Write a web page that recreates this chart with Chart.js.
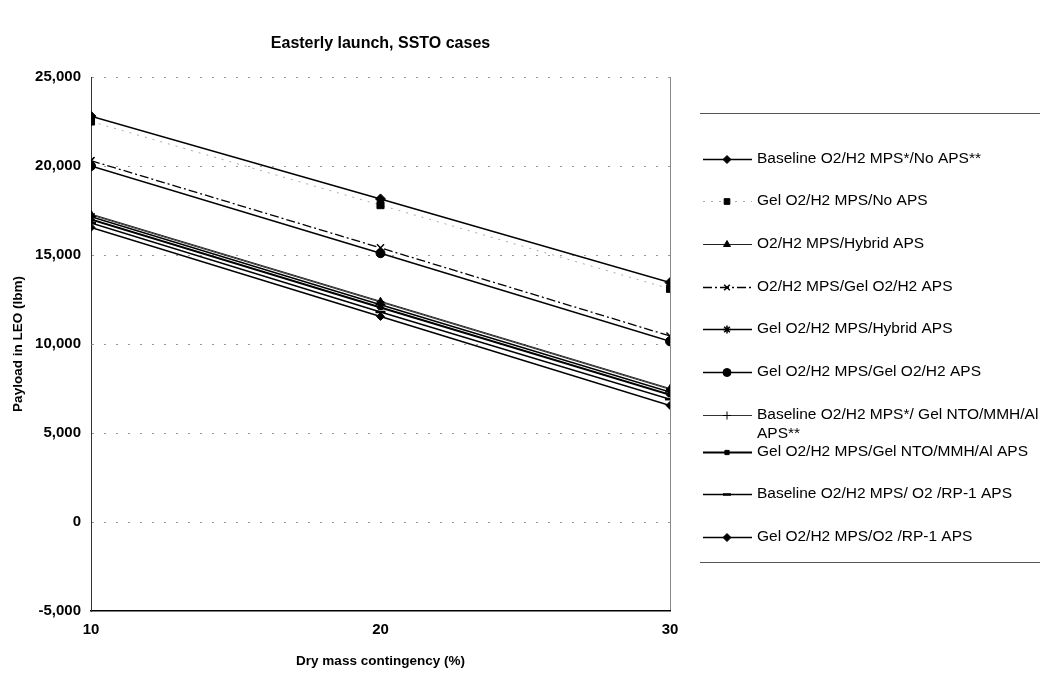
<!DOCTYPE html>
<html>
<head>
<meta charset="utf-8">
<script src="https://cdn.jsdelivr.net/npm/chart.js@4.4.1/dist/chart.umd.min.js"></script>
<style>
  html, body { margin: 0; padding: 0; background: #fff; }
  #wrap { width: 1045px; height: 677px; }
</style>
</head>
<body>
<div id="wrap"><canvas id="sstoChart" width="1045" height="677"></canvas></div>
<script>
// values (payload in lbm)
const chartTitle = 'Easterly launch, SSTO cases';
const contingency = [10, 20, 30];
const seriesNames = [
    'Baseline O2/H2 MPS*/No APS**',
    'Gel O2/H2 MPS/No APS',
    'O2/H2 MPS/Hybrid APS',
    'O2/H2 MPS/Gel O2/H2 APS',
    'Gel O2/H2 MPS/Hybrid APS',
    'Gel O2/H2 MPS/Gel O2/H2 APS',
    'Baseline O2/H2 MPS*/ Gel NTO/MMH/Al\nAPS**',
    'Gel O2/H2 MPS/Gel NTO/MMH/Al APS',
    'Baseline O2/H2 MPS/ O2 /RP-1 APS',
    'Gel O2/H2 MPS/O2 /RP-1 APS'
];
const baselineNoAps = [22800, 18150, 13450];
const gelNoAps = [22500, 17800, 13100];
const o2h2Hybrid = [17300, 12400, 7500];
const o2h2GelO2h2 = [20300, 15400, 10450];
const gelHybrid = [17150, 12200, 7300];
const gelGelO2h2 = [20000, 15100, 10150];
const baselineGelNto = [17250, 12350, 7450];
const gelGelNto = [17000, 12050, 7150];
const baselineRp1 = [16800, 11800, 6900];
const gelRp1 = [16550, 11550, 6550];
const yTicks = [-5000, 0, 5000, 10000, 15000, 20000, 25000];

const FONT = '"Liberation Sans", Arial, sans-serif';

function series(name, values, style) {
    return Object.assign({
        label: name,
        data: contingency.map((x, i) => ({ x: x, y: values[i] })),
        borderColor: '#000',
        backgroundColor: '#000',
        pointBorderColor: '#000',
        pointBackgroundColor: '#000',
        borderWidth: 1.5,
        pointRadius: 4,
        pointBorderWidth: 1,
        fill: false,
        tension: 0
    }, style);
}

const datasets = [
    series(seriesNames[0], baselineNoAps, { pointStyle: 'rectRot', pointRadius: 5 }),
    series(seriesNames[1], gelNoAps, { pointStyle: 'rect', pointRadius: 5, borderColor: '#aaa', borderWidth: 1, borderDash: [2, 6] }),
    series(seriesNames[2], o2h2Hybrid, { pointStyle: 'triangle', borderWidth: 1, borderColor: '#222' }),
    series(seriesNames[3], o2h2GelO2h2, { pointStyle: 'crossRot', pointRadius: 5, pointBorderWidth: 1.5, borderWidth: 1.3, borderDash: [9, 3, 2, 3] }),
    series(seriesNames[4], gelHybrid, { pointStyle: 'star', pointRadius: 5, pointBorderWidth: 1.5 }),
    series(seriesNames[5], gelGelO2h2, { pointStyle: 'circle', pointRadius: 4.5 }),
    series(seriesNames[6], baselineGelNto, { pointStyle: 'cross', pointRadius: 4, borderWidth: 1, borderColor: '#333' }),
    series(seriesNames[7], gelGelNto, { pointStyle: 'rect', pointRadius: 3, borderWidth: 2 }),
    series(seriesNames[8], baselineRp1, { pointStyle: 'line', pointRadius: 5, pointBorderWidth: 2.5, borderWidth: 1.5 }),
    series(seriesNames[9], gelRp1, { pointStyle: 'rectRot', pointRadius: 4 })
];

// legend drawn on the right, line sample + marker + text
const legendRows = [159, 201, 244, 287, 329, 372, 415, 452, 494, 537];
const sheetLegend = {
    id: 'sheetLegend',
    afterDraw(chart) {
        const ctx = chart.ctx;
        const area = chart.chartArea;
        ctx.save();
        ctx.fillStyle = '#000';
        ctx.textBaseline = 'middle';
        ctx.font = 'bold 16px ' + FONT;
        ctx.textAlign = 'center';
        ctx.fillText(chartTitle, (area.left + area.right) / 2, 44);

        ctx.strokeStyle = '#555';
        ctx.lineWidth = 1;
        ctx.beginPath();
        ctx.moveTo(700, 113.5); ctx.lineTo(1040, 113.5);
        ctx.moveTo(700, 562.5); ctx.lineTo(1040, 562.5);
        ctx.stroke();

        ctx.textAlign = 'left';
        ctx.font = '15.5px ' + FONT;
        chart.data.datasets.forEach((ds, i) => {
            const y = legendRows[i];
            ctx.save();
            ctx.strokeStyle = ds.borderColor;
            ctx.lineWidth = ds.borderWidth;
            ctx.setLineDash(ds.borderDash || []);
            ctx.beginPath();
            ctx.moveTo(703, y + 0.5);
            ctx.lineTo(752, y + 0.5);
            ctx.stroke();
            ctx.setLineDash([]);
            ctx.fillStyle = '#000';
            ctx.strokeStyle = '#000';
            ctx.lineWidth = ds.pointBorderWidth;
            Chart.helpers.drawPoint(ctx, {
                pointStyle: ds.pointStyle,
                radius: Math.min(ds.pointRadius, 4),
                rotation: 0,
                borderWidth: ds.pointBorderWidth
            }, 727, y + 0.5);
            ctx.restore();
            ctx.fillStyle = '#000';
            ds.label.split('\n').forEach((line, k) => {
                ctx.fillText(line, 757, y + k * 19);
            });
        });
        ctx.restore();
    }
};

const ctx = document.getElementById('sstoChart').getContext('2d');
new Chart(ctx, {
    type: 'line',
    data: { datasets: datasets },
    plugins: [sheetLegend],
    options: {
        responsive: false,
        animation: false,
        layout: { padding: { left: 6, right: 375, top: 77, bottom: 4 } },
        plugins: {
            legend: { display: false },
            tooltip: { enabled: false },
            title: { display: false }
        },
        scales: {
            x: {
                type: 'linear',
                min: 10,
                max: 30,
                afterBuildTicks(scale) {
                    scale.ticks = contingency.map(v => ({ value: v }));
                },
                afterFit(scale) { scale.height = 62; },
                grid: {
                    drawTicks: false,
                    color: c => (c.tick && c.tick.value === 30 ? '#888' : 'rgba(0,0,0,0)'),
                    lineWidth: 1
                },
                border: { display: true, color: '#000', width: 1.5 },
                ticks: { color: '#000', padding: 10, font: { family: FONT, size: 15, weight: 'bold' } },
                title: {
                    display: true,
                    text: 'Dry mass contingency (%)',
                    color: '#000',
                    padding: { top: 12 },
                    font: { family: FONT, size: 13.5, weight: 'bold' }
                }
            },
            y: {
                min: -5000,
                max: 25000,
                afterBuildTicks(scale) {
                    scale.ticks = yTicks.map(v => ({ value: v }));
                },
                afterFit(scale) { scale.width = 85; },
                grid: {
                    drawTicks: false,
                    color: c => (c.tick && c.tick.value === -5000 ? 'rgba(0,0,0,0)' : '#999'),
                    lineWidth: 1
                },
                border: { display: true, color: '#333', width: 1, dash: [2, 10] },
                ticks: {
                    color: '#000',
                    padding: 10,
                    font: { family: FONT, size: 15, weight: 'bold' },
                    callback: v => v.toLocaleString('en-US')
                },
                title: {
                    display: true,
                    text: 'Payload in LEO (lbm)',
                    color: '#000',
                    padding: { bottom: 2 },
                    font: { family: FONT, size: 13.5, weight: 'bold' }
                }
            }
        }
    }
});
</script>
</body>
</html>
